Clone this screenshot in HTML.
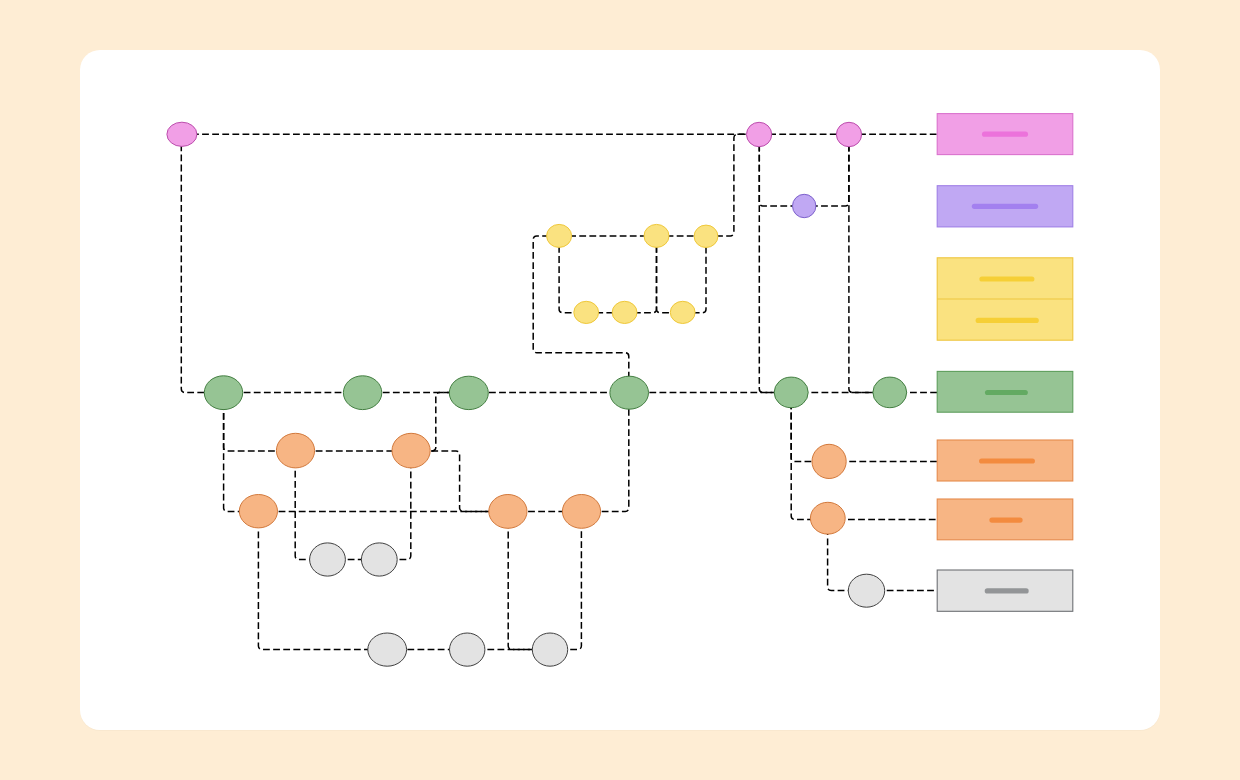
<!DOCTYPE html>
<html><head><meta charset="utf-8"><style>
html,body{margin:0;padding:0;width:1240px;height:780px;overflow:hidden;background:#FEEDD4;font-family:"Liberation Sans",sans-serif}
.card{position:absolute;left:80px;top:50px;width:1080px;height:680px;background:#fff;border-radius:20px;box-shadow:0 1px 1px rgba(0,0,0,0.025)}
</style></head><body>
<div class="card"></div>
<svg width="1240" height="780" viewBox="0 0 1240 780" style="position:absolute;left:0;top:0">
<g fill="none" stroke="#000" stroke-width="1.5" stroke-dasharray="6.8 3.3">
<path d="M181.9 134.2 L759.1 134.2"/>
<path d="M181.3 134.3 L181.30 389.10 A3.5 3.5 0 0 0 184.80 392.60 L223.5 392.6"/>
<path d="M759.1 134.2 L849.0 134.2"/>
<path d="M849.0 134.2 L937 134.2"/>
<path d="M759.3 134.5 L759.30 202.50 A3.5 3.5 0 0 0 762.80 206.00 L804.2 206"/>
<path d="M759.3 134.5 L759.30 389.10 A3.5 3.5 0 0 0 762.80 392.60 L791.2 392.6"/>
<path d="M848.9 134.5 L848.90 202.50 A3.5 3.5 0 0 1 845.40 206.00 L804.2 206"/>
<path d="M848.9 134.5 L848.90 389.10 A3.5 3.5 0 0 0 852.40 392.60 L889.8 392.6"/>
<path d="M791.2 392.6 L889.8 392.6"/>
<path d="M889.8 392.6 L937 392.6"/>
<path d="M629.2 392.6 L791.2 392.6"/>
<path d="M791.2 392.4 L791.20 458.00 A3.5 3.5 0 0 0 794.70 461.50 L829.1 461.5"/>
<path d="M791.2 392.4 L791.20 516.00 A3.5 3.5 0 0 0 794.70 519.50 L827.8 519.5"/>
<path d="M829.1 461.5 L937 461.5"/>
<path d="M827.8 519.5 L937 519.5"/>
<path d="M827.6 518.2 L827.60 587.10 A3.5 3.5 0 0 0 831.10 590.60 L866.5 590.6"/>
<path d="M866.5 590.6 L937 590.6"/>
<path d="M706.0 235.9 L730.40 235.90 A3.5 3.5 0 0 0 733.90 232.40 L733.90 137.70 A3.5 3.5 0 0 1 737.40 134.20 L759.1 134.2"/>
<path d="M559.1 235.9 L656.5 235.9"/>
<path d="M656.5 235.9 L706.0 235.9"/>
<path d="M559.1 235.9 L559.10 309.20 A3.5 3.5 0 0 0 562.60 312.70 L586.2 312.7"/>
<path d="M586.2 312.7 L624.6 312.7"/>
<path d="M656.5 235.9 L656.50 309.20 A3.5 3.5 0 0 1 653.00 312.70 L624.6 312.7"/>
<path d="M656.5 235.9 L656.50 309.20 A3.5 3.5 0 0 0 660.00 312.70 L682.7 312.7"/>
<path d="M682.7 312.7 L702.50 312.70 A3.5 3.5 0 0 0 706.00 309.20 L706 236.3"/>
<path d="M559.1 235.9 L536.70 235.90 A3.5 3.5 0 0 0 533.20 239.40 L533.20 349.30 A3.5 3.5 0 0 0 536.70 352.80 L625.30 352.80 A3.5 3.5 0 0 1 628.80 356.30 L628.8 392.7"/>
<path d="M223.5 392.6 L362.6 392.6"/>
<path d="M362.6 392.6 L468.8 392.6"/>
<path d="M468.8 392.6 L629.2 392.6"/>
<path d="M223.6 392.7 L223.60 447.40 A3.5 3.5 0 0 0 227.10 450.90 L295.5 450.9"/>
<path d="M223.6 392.7 L223.60 508.00 A3.5 3.5 0 0 0 227.10 511.50 L258.4 511.5"/>
<path d="M295.5 450.9 L411.1 450.9"/>
<path d="M411.1 450.9 L432.30 450.90 A3.5 3.5 0 0 0 435.80 447.40 L435.80 396.10 A3.5 3.5 0 0 1 439.30 392.60 L468.8 392.6"/>
<path d="M411.1 450.9 L456.10 450.90 A3.5 3.5 0 0 1 459.60 454.40 L459.60 508.00 A3.5 3.5 0 0 0 463.10 511.50 L507.9 511.5"/>
<path d="M258.4 511.5 L507.9 511.5"/>
<path d="M507.9 511.5 L581.5 511.5"/>
<path d="M581.5 511.5 L625.30 511.50 A3.5 3.5 0 0 0 628.80 508.00 L628.8 392.7"/>
<path d="M295.2 450.6 L295.20 556.10 A3.5 3.5 0 0 0 298.70 559.60 L327.5 559.6"/>
<path d="M327.5 559.6 L379.3 559.6"/>
<path d="M379.3 559.6 L407.30 559.60 A3.5 3.5 0 0 0 410.80 556.10 L410.8 450.6"/>
<path d="M258.4 511.2 L258.40 646.10 A3.5 3.5 0 0 0 261.90 649.60 L387.2 649.6"/>
<path d="M387.2 649.6 L467.2 649.6"/>
<path d="M467.2 649.6 L550.0 649.6"/>
<path d="M508.2 511.4 L508.20 646.10 A3.5 3.5 0 0 0 511.70 649.60 L550.0 649.6"/>
<path d="M550.0 649.6 L577.90 649.60 A3.5 3.5 0 0 0 581.40 646.10 L581.4 511.4"/>
</g>
<ellipse cx="181.9" cy="134.3" rx="15.0" ry="12.1" fill="#F19FE6" stroke="#BC4DAD" stroke-width="1"/>
<ellipse cx="759.1" cy="134.5" rx="12.6" ry="12.2" fill="#F19FE6" stroke="#BC4DAD" stroke-width="1"/>
<ellipse cx="849.0" cy="134.5" rx="12.6" ry="12.2" fill="#F19FE6" stroke="#BC4DAD" stroke-width="1"/>
<ellipse cx="804.2" cy="206.0" rx="11.7" ry="11.7" fill="#C0A8F3" stroke="#7C60CB" stroke-width="1"/>
<ellipse cx="559.1" cy="235.9" rx="12.5" ry="11.5" fill="#FAE280" stroke="#EFC83A" stroke-width="1"/>
<ellipse cx="656.5" cy="235.9" rx="12.5" ry="11.5" fill="#FAE280" stroke="#EFC83A" stroke-width="1"/>
<ellipse cx="706.0" cy="236.3" rx="11.9" ry="11.2" fill="#FAE280" stroke="#EFC83A" stroke-width="1"/>
<ellipse cx="586.2" cy="312.4" rx="12.4" ry="11.1" fill="#FAE280" stroke="#EFC83A" stroke-width="1"/>
<ellipse cx="624.6" cy="312.4" rx="12.4" ry="11.1" fill="#FAE280" stroke="#EFC83A" stroke-width="1"/>
<ellipse cx="682.7" cy="312.4" rx="12.4" ry="11.1" fill="#FAE280" stroke="#EFC83A" stroke-width="1"/>
<ellipse cx="223.5" cy="392.7" rx="19.2" ry="16.9" fill="#96C494" stroke="#447F42" stroke-width="1"/>
<ellipse cx="362.6" cy="392.7" rx="19.2" ry="16.9" fill="#96C494" stroke="#447F42" stroke-width="1"/>
<ellipse cx="468.8" cy="392.9" rx="19.5" ry="16.7" fill="#96C494" stroke="#447F42" stroke-width="1"/>
<ellipse cx="629.2" cy="392.7" rx="19.3" ry="16.5" fill="#96C494" stroke="#447F42" stroke-width="1"/>
<ellipse cx="791.2" cy="392.4" rx="17.0" ry="15.3" fill="#96C494" stroke="#447F42" stroke-width="1"/>
<ellipse cx="889.8" cy="392.4" rx="16.9" ry="15.3" fill="#96C494" stroke="#447F42" stroke-width="1"/>
<ellipse cx="295.5" cy="450.6" rx="19.1" ry="17.3" fill="#F7B584" stroke="#D2793C" stroke-width="1"/>
<ellipse cx="411.1" cy="450.6" rx="19.1" ry="17.3" fill="#F7B584" stroke="#D2793C" stroke-width="1"/>
<ellipse cx="258.4" cy="511.2" rx="19.1" ry="16.7" fill="#F7B584" stroke="#D2793C" stroke-width="1"/>
<ellipse cx="507.9" cy="511.4" rx="19.1" ry="16.9" fill="#F7B584" stroke="#D2793C" stroke-width="1"/>
<ellipse cx="581.5" cy="511.4" rx="19.1" ry="16.9" fill="#F7B584" stroke="#D2793C" stroke-width="1"/>
<ellipse cx="829.1" cy="461.4" rx="17.1" ry="17.1" fill="#F7B584" stroke="#D2793C" stroke-width="1"/>
<ellipse cx="827.8" cy="518.2" rx="17.4" ry="15.9" fill="#F7B584" stroke="#D2793C" stroke-width="1"/>
<ellipse cx="327.5" cy="559.5" rx="17.9" ry="16.6" fill="#E3E3E3" stroke="#404040" stroke-width="1"/>
<ellipse cx="379.3" cy="559.5" rx="17.9" ry="16.6" fill="#E3E3E3" stroke="#404040" stroke-width="1"/>
<ellipse cx="387.2" cy="649.6" rx="19.4" ry="16.6" fill="#E3E3E3" stroke="#404040" stroke-width="1"/>
<ellipse cx="467.2" cy="649.6" rx="17.7" ry="16.6" fill="#E3E3E3" stroke="#404040" stroke-width="1"/>
<ellipse cx="550.0" cy="649.6" rx="17.7" ry="16.6" fill="#E3E3E3" stroke="#404040" stroke-width="1"/>
<ellipse cx="866.5" cy="590.7" rx="18.2" ry="16.5" fill="#E3E3E3" stroke="#404040" stroke-width="1"/>
<rect x="937.2" y="113.6" width="135.6" height="41.0" fill="#F19FE6" stroke="#DA72CD" stroke-width="1.1"/>
<line x1="984.55" y1="134.2" x2="1025.45" y2="134.2" stroke="#EC72DB" stroke-width="5.2" stroke-linecap="round"/>
<rect x="937.2" y="185.7" width="135.6" height="41.2" fill="#C0A8F3" stroke="#9F80E6" stroke-width="1.1"/>
<line x1="974.40" y1="206.3" x2="1035.60" y2="206.3" stroke="#A380EF" stroke-width="5.2" stroke-linecap="round"/>
<rect x="937.2" y="257.8" width="135.6" height="82.4" fill="#FAE280" stroke="#EEC53E" stroke-width="1.1"/>
<line x1="937.2" y1="299.00" x2="1072.8" y2="299.00" stroke="#EEC53E" stroke-width="1.1"/>
<line x1="981.95" y1="279.0" x2="1031.85" y2="279.0" stroke="#F6CF36" stroke-width="5.2" stroke-linecap="round"/>
<line x1="978.20" y1="320.4" x2="1036.20" y2="320.4" stroke="#F6CF36" stroke-width="5.2" stroke-linecap="round"/>
<rect x="937.2" y="371.4" width="135.6" height="40.8" fill="#96C494" stroke="#5E9E5C" stroke-width="1.1"/>
<line x1="987.55" y1="392.5" x2="1025.25" y2="392.5" stroke="#63AA62" stroke-width="5.2" stroke-linecap="round"/>
<rect x="937.2" y="440.0" width="135.6" height="41.0" fill="#F7B584" stroke="#E58A4C" stroke-width="1.1"/>
<line x1="981.65" y1="461.0" x2="1032.35" y2="461.0" stroke="#F38B3F" stroke-width="5.2" stroke-linecap="round"/>
<rect x="937.2" y="499.0" width="135.6" height="40.8" fill="#F7B584" stroke="#E58A4C" stroke-width="1.1"/>
<line x1="991.95" y1="520.1" x2="1020.05" y2="520.1" stroke="#F38B3F" stroke-width="5.2" stroke-linecap="round"/>
<rect x="937.2" y="570.0" width="135.6" height="41.3" fill="#E3E3E3" stroke="#6E7074" stroke-width="1.1"/>
<line x1="987.30" y1="590.9" x2="1026.10" y2="590.9" stroke="#939597" stroke-width="5.2" stroke-linecap="round"/>
</svg>
</body></html>
